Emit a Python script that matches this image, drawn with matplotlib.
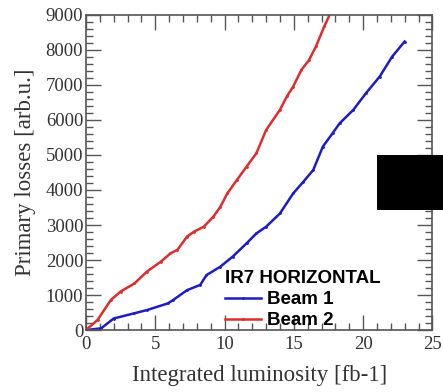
import matplotlib
matplotlib.use("Agg")
import matplotlib.pyplot as plt
from matplotlib.patches import Rectangle
from matplotlib.ticker import MultipleLocator

# Beam 1 / Beam 2 primary losses vs integrated luminosity
beam1_lumi = [0.0, 1.1, 2.0, 3.5, 4.4, 5.9, 6.3, 7.3, 8.25, 8.7, 9.7, 10.6, 11.6,
              12.3, 13.0, 14.0, 14.95, 15.7, 16.4, 17.1, 17.8, 18.3, 19.3, 20.2,
              21.2, 22.1, 23.0]
beam1_loss = [0, 50, 330, 480, 570, 760, 860, 1140, 1290, 1570, 1810, 2100, 2480,
              2760, 2950, 3330, 3900, 4240, 4570, 5240, 5620, 5900, 6290, 6760,
              7240, 7810, 8240]

beam2_lumi = [0.0, 0.84, 1.8, 2.5, 3.5, 4.4, 5.4, 6.1, 6.6, 7.3, 7.8, 8.5, 9.2,
              9.7, 10.2, 10.9, 11.6, 12.3, 13.0, 14.0, 14.5, 14.95, 15.55, 16.1,
              16.6, 17.2, 17.7]
beam2_loss = [0, 290, 860, 1100, 1330, 1670, 1950, 2190, 2290, 2670, 2810, 2950,
              3240, 3520, 3900, 4290, 4670, 5050, 5710, 6290, 6670, 6950, 7430,
              7710, 8100, 8670, 9100]

plt.rcParams['font.family'] = ['Liberation Serif', 'DejaVu Serif']

fig = plt.figure(figsize=(4.43, 3.92), dpi=100)
ax = fig.add_axes([0.194, 0.158, 0.782, 0.804])

ax.plot(beam1_lumi, beam1_loss, color='#1c1cc8', linewidth=1.8,
        marker='.', markersize=2, label='Beam 1')
ax.plot(beam2_lumi, beam2_loss, color='#e02c2c', linewidth=1.8,
        marker='.', markersize=2, label='Beam 2')

ax.set_xlim(0, 25)
ax.set_ylim(0, 9000)
ax.xaxis.set_major_locator(MultipleLocator(5))
ax.xaxis.set_minor_locator(MultipleLocator(1))
ax.yaxis.set_major_locator(MultipleLocator(1000))
ax.yaxis.set_minor_locator(MultipleLocator(200))
ax.tick_params(which='both', direction='in', top=True, right=True,
               colors='#555555', labelcolor='#333333', labelsize=13.5)
ax.tick_params(axis='x', pad=4)
ax.tick_params(axis='y', pad=2)
ax.tick_params(which='major', length=11, width=1.0)
ax.tick_params(which='minor', length=5, width=1.0)
for spine in ax.spines.values():
    spine.set_color('#555555')
    spine.set_linewidth(1.2)

ax.set_xlabel('Integrated luminosity [fb-1]', fontsize=16.5, color='#333333',
              labelpad=9)
ax.set_ylabel('Primary losses [arb.u.]', fontsize=16.5, color='#333333',
              labelpad=7)

leg = ax.legend(title='IR7 HORIZONTAL', loc='upper left',
                bbox_to_anchor=(0.37, 0.225), frameon=False,
                prop={'family': 'Liberation Sans', 'weight': 'bold', 'size': 13.5},
                title_fontproperties={'family': 'Liberation Sans',
                                      'weight': 'bold', 'size': 13.5},
                handlelength=1.9, handletextpad=0.3, labelspacing=0.2,
                borderpad=0.1)
leg._legend_box.align = 'left'

# black box covering the right edge in the original
fig.patches.append(Rectangle((377, 182), 66, 55, transform=None,
                             facecolor='black', edgecolor='none', zorder=10))

fig.savefig('out.png', dpi=100)
